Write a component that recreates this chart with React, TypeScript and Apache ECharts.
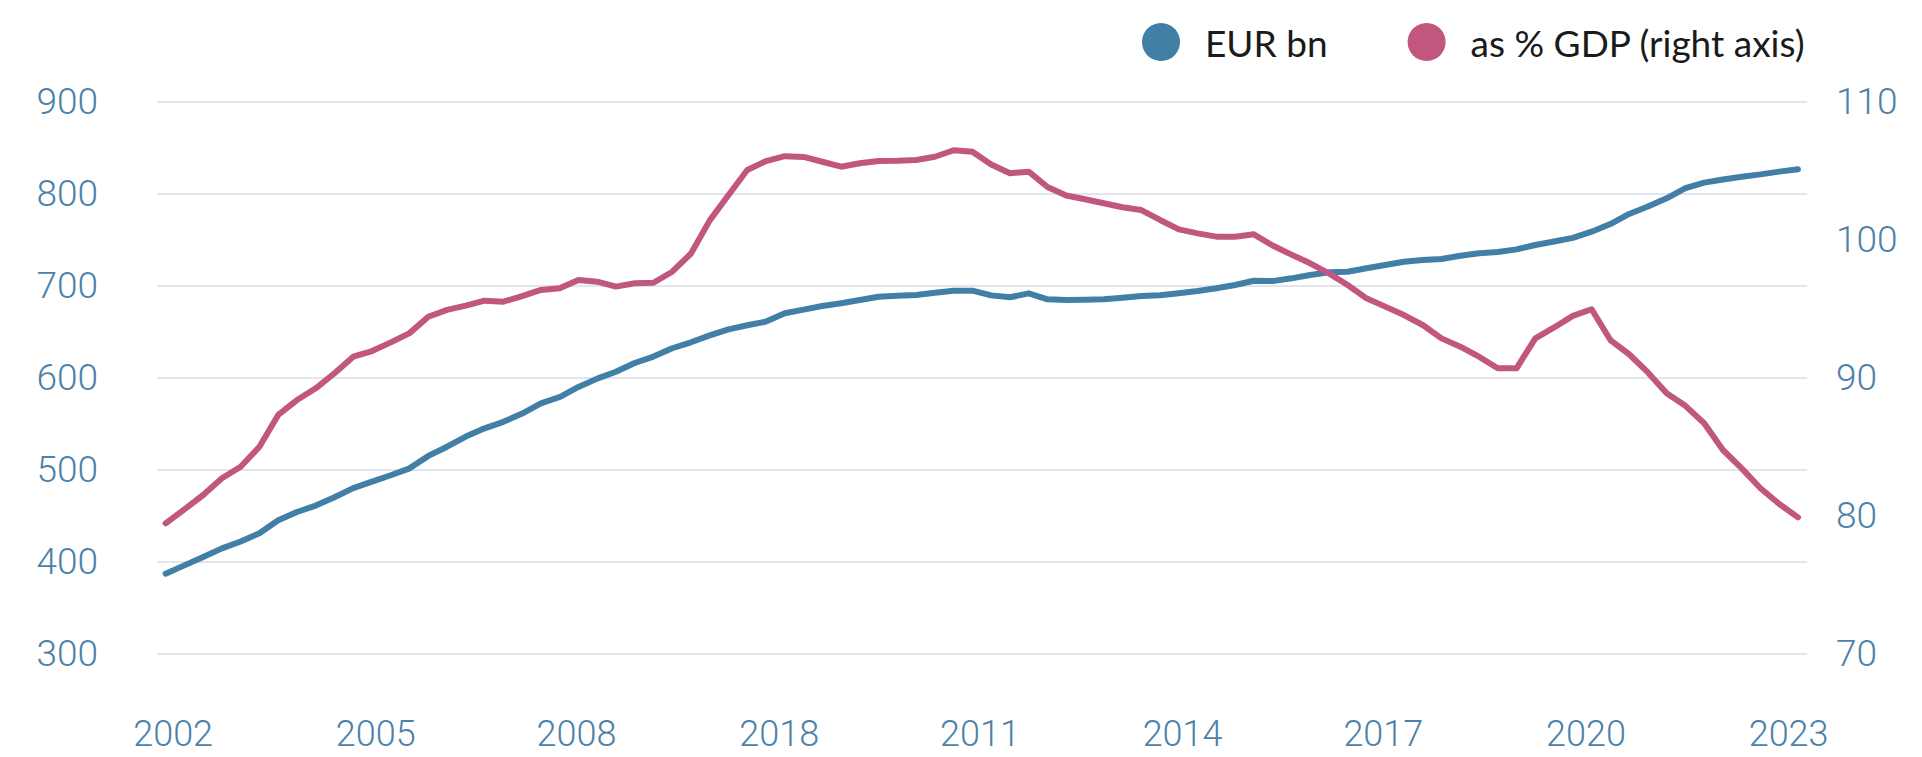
import React, { useEffect, useRef } from "react";
import * as echarts from "echarts";

// x-axis tick labels (as printed in the source) and where they sit along the series index
const xLabels = ["2002", "2005", "2008", "2018", "2011", "2014", "2017", "2020", "2023"];
const xLabelPositions = [0.4, 11.2, 21.9, 32.7, 43.4, 54.2, 64.9, 75.7, 86.5];

// EUR bn (left axis), 88 observations
const eurBn = [
  387, 396, 405, 414.5, 422, 431, 445, 454, 461, 470,
  480, 487, 494, 501.5, 515, 525, 536, 545, 552, 561,
  572, 579, 590, 599, 606.5, 616, 623, 632, 638.5, 646,
  652.6, 657, 661, 670, 674, 678, 681, 684.5, 688, 689,
  690, 692.4, 694.6, 694.6, 689.5, 687.4, 691.7, 685.2, 684.5, 684.8,
  685.2, 687, 688.8, 689.6, 691.7, 694.2, 697.2, 700.8, 705.4, 705,
  708, 711.6, 714.5, 715.2, 718.9, 722.5, 726.1, 727.9, 729, 732.6,
  735.2, 736.6, 739.5, 744.2, 748, 752, 758.7, 767, 778, 786,
  795, 806, 812, 815.5, 818.5, 821, 824, 826.5,
];

// as % of GDP (right axis), 88 observations
const pctGdp = [
  79.45, 80.46, 81.5, 82.71, 83.55, 85.0, 87.3, 88.38, 89.23, 90.32,
  91.52, 91.93, 92.56, 93.23, 94.42, 94.91, 95.22, 95.58, 95.51, 95.92,
  96.36, 96.48, 97.08, 96.96, 96.6, 96.84, 96.88, 97.68, 99.0, 101.4,
  103.24, 105.05, 105.7, 106.05, 106.0, 105.65, 105.29, 105.54, 105.71, 105.72,
  105.78, 106.01, 106.48, 106.38, 105.45, 104.81, 104.93, 103.82, 103.2, 102.93,
  102.64, 102.35, 102.15, 101.43, 100.75, 100.46, 100.22, 100.22, 100.39, 99.58,
  98.92, 98.29, 97.56, 96.72, 95.75, 95.15, 94.54, 93.82, 92.85, 92.25,
  91.52, 90.68, 90.68, 92.85, 93.64, 94.48, 94.96, 92.73, 91.7, 90.38,
  88.87, 87.96, 86.7, 84.76, 83.43, 81.99, 80.85, 79.88,
];

const seriesNames = ["EUR bn", "as % GDP (right axis)"];
const colors = ["#417fa7", "#c1567f"];

export default function App() {
  const ref = useRef<HTMLDivElement>(null);

  useEffect(() => {
    if (!ref.current) return;
    const chart = echarts.init(ref.current, undefined, { renderer: "svg" });
    const axisLabelStyle = {
      color: "#4c82a9",
      fontFamily: "Roboto",
      fontWeight: 300,
      fontSize: 37,
    };
    chart.setOption({
      animation: false,
      backgroundColor: "#ffffff",
      grid: { left: 157, right: 115, top: 101.7, bottom: 103.3 },
      legend: {
        left: 1137,
        top: 18,
        icon: "circle",
        itemWidth: 38,
        itemHeight: 38,
        itemGap: 80,
        data: seriesNames,
        textStyle: {
          fontFamily: "Lato",
          fontSize: 37,
          color: "#1a1a1a",
          padding: [0, 0, 0, 20],
        },
      },
      xAxis: {
        type: "value",
        min: -0.46,
        max: 87.48,
        axisLine: { show: false },
        axisTick: { show: false },
        splitLine: { show: false },
        axisLabel: {
          ...axisLabelStyle,
          fontSize: 36,
          margin: 62,
          customValues: xLabelPositions,
          formatter: (v: number) => {
            let best = 0;
            for (let k = 1; k < xLabelPositions.length; k++) {
              if (Math.abs(xLabelPositions[k] - v) < Math.abs(xLabelPositions[best] - v)) best = k;
            }
            return xLabels[best];
          },
        },
      },
      yAxis: [
        {
          type: "value",
          min: 300,
          max: 900,
          interval: 100,
          axisLine: { show: false },
          axisTick: { show: false },
          axisLabel: { ...axisLabelStyle, margin: 59 },
          splitLine: { show: true, lineStyle: { color: "#d9dde8", width: 1.5 } },
        },
        {
          type: "value",
          min: 70,
          max: 110,
          interval: 10,
          position: "right",
          axisLine: { show: false },
          axisTick: { show: false },
          axisLabel: { ...axisLabelStyle, margin: 29 },
          splitLine: { show: false },
        },
      ],
      series: [
        {
          name: seriesNames[0],
          type: "line",
          yAxisIndex: 0,
          data: eurBn.map((v, i) => [i, v]),
          showSymbol: false,
          symbol: "none",
          color: colors[0],
          lineStyle: { color: colors[0], width: 6, cap: "round", join: "round" },
        },
        {
          name: seriesNames[1],
          type: "line",
          yAxisIndex: 1,
          data: pctGdp.map((v, i) => [i, v]),
          showSymbol: false,
          symbol: "none",
          color: colors[1],
          lineStyle: { color: colors[1], width: 6, cap: "round", join: "round" },
        },
      ],
    });
    return () => chart.dispose();
  }, []);

  return (
    <div
      ref={ref}
      style={{ position: "absolute", left: 0, top: 0, width: 1922, height: 757, background: "#fff" }}
    />
  );
}
